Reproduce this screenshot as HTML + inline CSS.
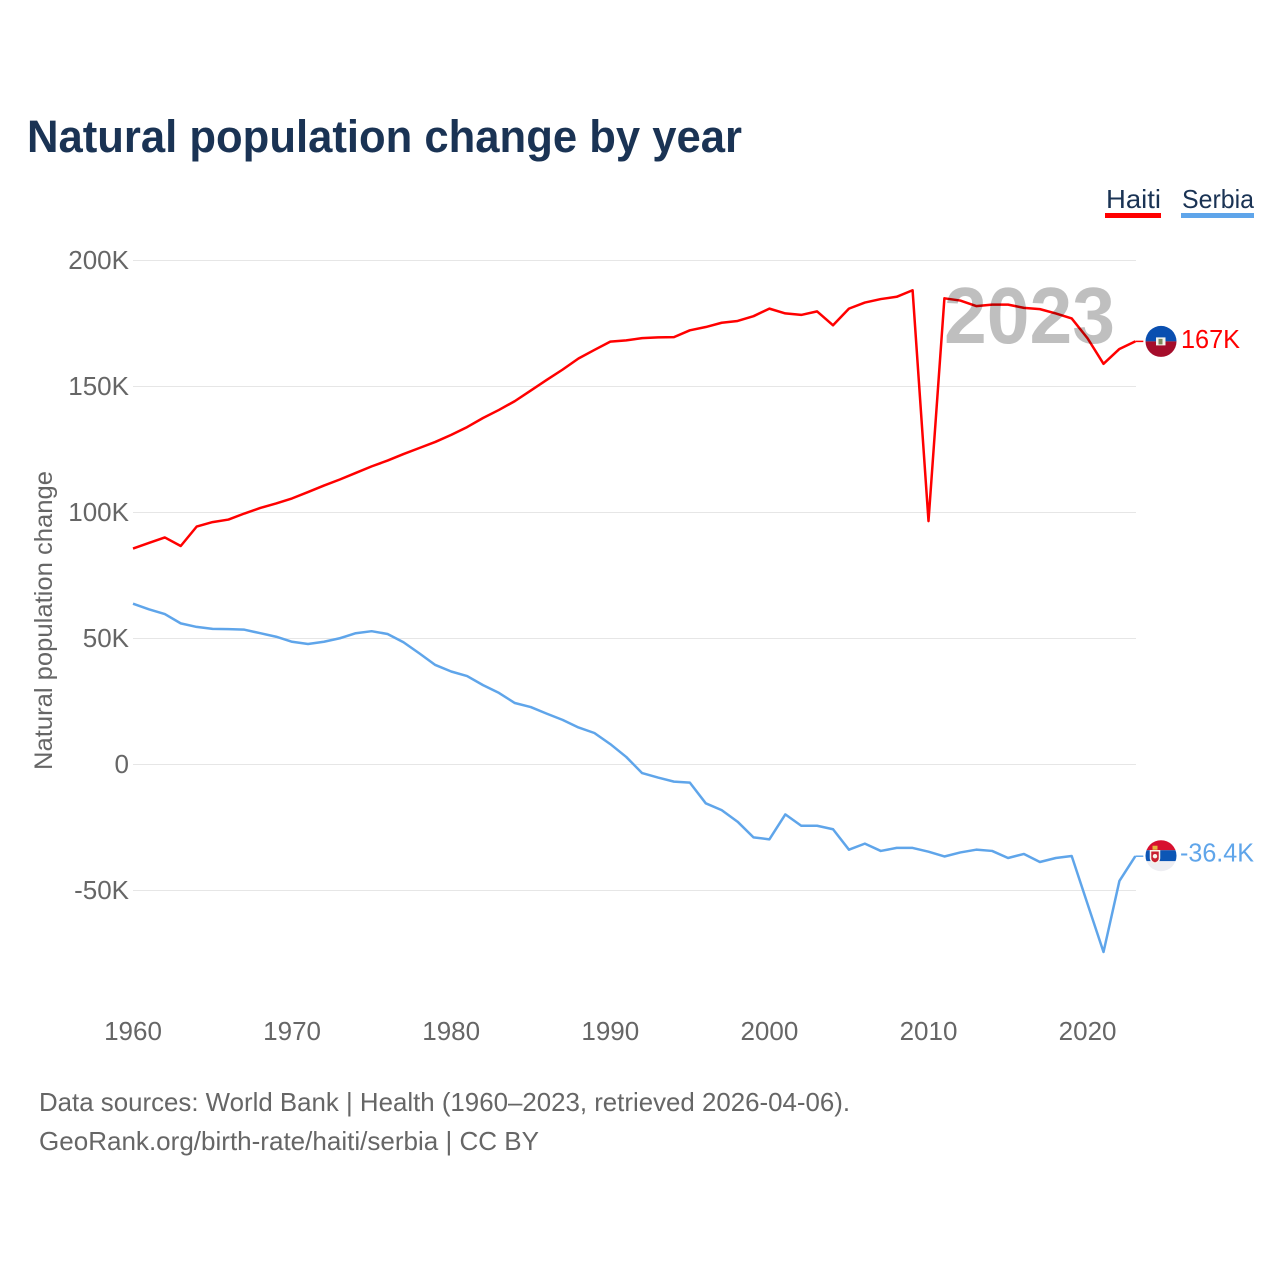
<!DOCTYPE html>
<html>
<head>
<meta charset="utf-8">
<title>Natural population change by year</title>
<style>
html,body{margin:0;padding:0;background:#fff}
svg{display:block}
text{font-family:"Liberation Sans",sans-serif}
</style>
</head>
<body>
<svg id="chart" xmlns="http://www.w3.org/2000/svg" width="1280" height="1280" viewBox="0 0 1280 1280">
  <defs>
    <clipPath id="flag-clip"><circle cx="0" cy="0" r="15.5"></circle></clipPath>
  </defs>
  <text x="27" y="152" font-size="45" font-weight="700" fill="#1a3354" textLength="715" lengthAdjust="spacingAndGlyphs">Natural population change by year</text>
  <g>
    <text x="1106" y="208" font-size="26" fill="#1a3354" textLength="55" lengthAdjust="spacingAndGlyphs">Haiti</text>
    <rect x="1105" y="213" width="56" height="5" fill="#ff0000"></rect>
  </g>
  <g>
    <text x="1182" y="208" font-size="26" fill="#1a3354" textLength="72" lengthAdjust="spacingAndGlyphs">Serbia</text>
    <rect x="1181" y="213" width="73" height="5" fill="#5fa5ea"></rect>
  </g>
  <g id="grid"></g>
  <g id="y-axis"></g>
  <g id="x-axis"></g>
  <text transform="translate(52,770) rotate(-90)" x="0" y="0" font-size="25" fill="#666666" textLength="299" lengthAdjust="spacingAndGlyphs">Natural population change</text>
  <g id="series"></g>
  <text x="944" y="343" font-size="80" font-weight="700" fill="#000000" fill-opacity="0.25" textLength="171" lengthAdjust="spacingAndGlyphs">2023</text>
  <g id="flag-haiti" clip-path="url(#flag-clip)">
    <rect x="-16" y="-16" width="32" height="16" fill="#0a4fb0"></rect>
    <rect x="-16" y="0" width="32" height="16" fill="#a50d2b"></rect>
    <rect x="-5" y="-4" width="9.500" height="8" fill="#f4f4ee"></rect>
    <rect x="-2.500" y="-2.500" width="4" height="5.500" fill="#7d8a5c"></rect>
  </g>
  <g id="flag-serbia" clip-path="url(#flag-clip)">
    <rect x="-16" y="-16" width="32" height="10.500" fill="#d7102f"></rect>
    <rect x="-16" y="-5.500" width="32" height="11" fill="#0c56b5"></rect>
    <rect x="-16" y="5.500" width="32" height="11" fill="#eeeef2"></rect>
    <path d="M-10.500-5h9v7.500q0 3.500-4.500 5-4.500-1.500-4.500-5z" fill="#c9202f" stroke="#f7f3ea" stroke-width="1.500"></path>
    <rect x="-8.500" y="-10" width="5" height="4" fill="#e6b53c"></rect>
    <circle cx="-6" cy="0.500" r="2.200" fill="#f7f3ea"></circle>
  </g>
  <text id="label-haiti" x="1181" font-size="26" fill="#ff0000" textLength="59" lengthAdjust="spacingAndGlyphs"></text>
  <text id="label-serbia" x="1180" font-size="26" fill="#5fa5ea" textLength="74" lengthAdjust="spacingAndGlyphs"></text>
  <text x="39" y="1111" font-size="26" fill="#666666" textLength="811" lengthAdjust="spacingAndGlyphs">Data sources: World Bank | Health (1960–2023, retrieved 2026-04-06).</text>
  <text x="39" y="1150" font-size="26" fill="#666666" textLength="500" lengthAdjust="spacingAndGlyphs">GeoRank.org/birth-rate/haiti/serbia | CC BY</text>
</svg>
<script>
const startYear = 1960;
const haiti = [85.7,87.9,90.1,86.7,94.4,96.2,97.2,99.6,101.8,103.6,105.6,108.1,110.7,113.1,115.7,118.3,120.6,123.2,125.6,128.0,130.8,133.9,137.5,140.7,144.2,148.4,152.6,156.7,161.1,164.5,167.8,168.3,169.2,169.5,169.6,172.3,173.6,175.3,176.0,177.9,180.9,179.0,178.4,179.8,174.3,180.9,183.3,184.7,185.6,188.2,96.6,185.0,184.1,181.9,182.5,182.5,181.2,180.7,179.0,177.0,169.1,159.0,164.9,167.9];
const serbia = [63.8,61.6,59.7,56.0,54.6,53.8,53.7,53.5,52.1,50.7,48.7,47.8,48.7,50.1,52.1,52.9,51.8,48.5,44.1,39.5,36.9,35.1,31.5,28.4,24.4,22.8,20.2,17.7,14.7,12.5,8.1,3.0,-3.4,-5.2,-6.8,-7.2,-15.4,-18.1,-22.7,-28.9,-29.7,-19.8,-24.3,-24.3,-25.7,-33.8,-31.4,-34.3,-33.1,-33.1,-34.6,-36.5,-34.9,-33.8,-34.3,-37.1,-35.5,-38.7,-37.1,-36.3,-55.4,-74.4,-46.2,-36.4];
const yTicks = [200,150,100,50,0,-50];
const yTickLabels = ["200K","150K","100K","50K","0","-50K"];
const xTicks = [1960,1970,1980,1990,2000,2010,2020];
const endLabels = ["167K","-36.4K"];

const NS = "http://www.w3.org/2000/svg";
const xScale = function (year) { return 133 + (year - 1960) * 15.91; };
const yScale = function (v) { return 764.5 - v * 2.52; };

function make(tag, parent) {
  const el = document.createElementNS(NS, tag);
  parent.appendChild(el);
  return el;
}

const grid = document.getElementById("grid");
const yAxis = document.getElementById("y-axis");
const xAxis = document.getElementById("x-axis");
const series = document.getElementById("series");

yTicks.forEach(function (t, i) {
  const line = make("line", grid);
  
  
  line.setAttribute("x1", 133);
  line.setAttribute("x2", 1136);
  line.setAttribute("y1", yScale(t));
  line.setAttribute("y2", yScale(t));
  line.setAttribute("stroke", "#e6e6e6");
  line.setAttribute("stroke-width", 1);

  const label = make("text", yAxis);
  
  
  label.setAttribute("x", 129);
  label.setAttribute("y", yScale(t) + 8.5);
  label.setAttribute("text-anchor", "end");
  label.setAttribute("font-size", 26);
  label.setAttribute("fill", "#666666");
  label.textContent = yTickLabels[i];
});

xTicks.forEach(function (t) {
  const label = make("text", xAxis);
  
  
  label.setAttribute("x", xScale(t));
  label.setAttribute("y", 1040);
  label.setAttribute("text-anchor", "middle");
  label.setAttribute("font-size", 26);
  label.setAttribute("fill", "#666666");
  label.textContent = String(t);
});

function linePath(values) {
  return values.map(function (v, i) {
    return (i ? "L" : "M") + xScale(startYear + i).toFixed(2) + " " + yScale(v).toFixed(2);
  }).join("");
}

const haitiLine = make("path", series);


haitiLine.setAttribute("d", linePath(haiti));
haitiLine.setAttribute("fill", "none");
haitiLine.setAttribute("stroke", "#ff0000");
haitiLine.setAttribute("stroke-width", 2.5);
haitiLine.setAttribute("stroke-linejoin", "round");

const serbiaLine = make("path", series);


serbiaLine.setAttribute("d", linePath(serbia));
serbiaLine.setAttribute("fill", "none");
serbiaLine.setAttribute("stroke", "#5fa5ea");
serbiaLine.setAttribute("stroke-width", 2.5);
serbiaLine.setAttribute("stroke-linejoin", "round");

const lastX = xScale(startYear + haiti.length - 1);
const haitiEnd = yScale(haiti[haiti.length - 1]);
const serbiaEnd = yScale(serbia[serbia.length - 1]);

const haitiConnector = make("line", series);


haitiConnector.setAttribute("x1", lastX);
haitiConnector.setAttribute("x2", lastX + 8);
haitiConnector.setAttribute("y1", haitiEnd);
haitiConnector.setAttribute("y2", haitiEnd);
haitiConnector.setAttribute("stroke", "#ff0000");
haitiConnector.setAttribute("stroke-width", 1.5);

const serbiaConnector = make("line", series);


serbiaConnector.setAttribute("x1", lastX);
serbiaConnector.setAttribute("x2", lastX + 8);
serbiaConnector.setAttribute("y1", serbiaEnd);
serbiaConnector.setAttribute("y2", serbiaEnd);
serbiaConnector.setAttribute("stroke", "#5fa5ea");
serbiaConnector.setAttribute("stroke-width", 1.5);

document.getElementById("flag-haiti").setAttribute("transform", "translate(1161," + haitiEnd + ")");
document.getElementById("flag-serbia").setAttribute("transform", "translate(1161," + (serbiaEnd - 0.5) + ")");

const labelHaiti = document.getElementById("label-haiti");
labelHaiti.setAttribute("y", haitiEnd + 6.5);
labelHaiti.textContent = endLabels[0];

const labelSerbia = document.getElementById("label-serbia");
labelSerbia.setAttribute("y", serbiaEnd + 5.5);
labelSerbia.textContent = endLabels[1];
</script>
</body>
</html>
